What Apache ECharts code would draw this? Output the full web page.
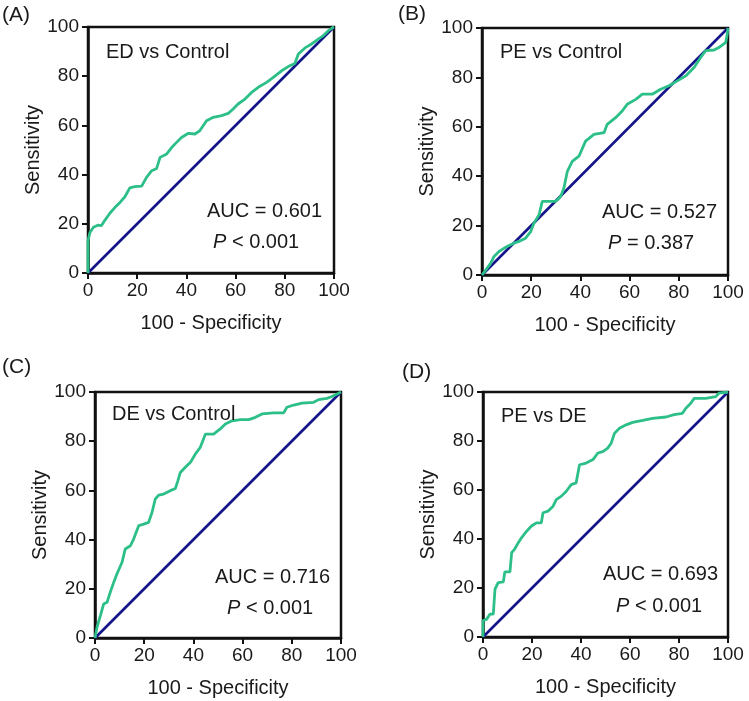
<!DOCTYPE html>
<html>
<head>
<meta charset="utf-8">
<script src="https://cdn.jsdelivr.net/npm/echarts@6/dist/echarts.min.js"></script>
<style>
html,body{margin:0;padding:0;background:#fff;}
#chart{width:749px;height:701px;}
</style>
</head>
<body>
<div id="chart"></div>
<script>
// Axis ticks
var tickValues = [0, 20, 40, 60, 80, 100];
// Reference (chance) line
var diagX = [0, 100];
var diagY = [0, 100];

// (A) ED vs Control
var fprA = [0,0,0.8,2.2,4.2,5.5,6.9,8.9,11,13,15,17,19,21.8,23.8,25.9,27.9,29.3,32,34,36,38,40.8,43.5,45.5,48.2,50.9,54.3,57,59,61,63.8,66.5,69.2,72.6,75.3,78.7,81.4,84.1,85.5,88.2,90.9,93.6,95.7,97.7,99.7,100];
var tprA = [0,13.1,16.5,18.6,19.5,19.3,21.5,24.3,26.7,28.7,31,34.6,35.1,35.3,38.9,41.6,42.5,47,48.4,51,53.1,55.1,56.8,56.5,57.9,61.9,63.3,64,64.9,66.7,68.7,70.7,73.4,75.5,77.5,79.5,82.2,83.9,85.2,89,91.5,93.1,95.1,96.5,98.5,99.9,100];

// (B) PE vs Control
var fprB = [0,1.5,3.5,4.9,6.9,8.9,11,13,15,17.7,19.8,21.1,23.2,24.5,27.2,29.9,32,33.3,34.7,36.7,39.4,42.1,45.5,49.6,50.9,54.3,57,59,62.5,65.2,69.2,72.6,76,79.4,82.8,86.2,88.9,90.9,94.3,96.3,99.1,99.7,100];
var tprB = [0,2,4.7,7.5,9.5,10.8,11.9,12.9,13.6,14.9,17.6,21,24.4,29.8,29.8,29.8,31.8,35.2,42,46,48.1,54.2,56.9,57.6,61,63.7,66.4,69.1,71.1,73.2,73.2,75.2,76.6,78.6,80.6,84,88.1,90.8,91.1,92.1,94.2,97.6,100];

// (C) DE vs Control
var fprC = [0,0.8,2.2,3.5,4.9,6.2,7.6,8.9,11,12.3,14.4,15.7,17.8,19.8,21.8,23.2,24.5,25.9,27.9,30.6,32.7,33.7,34.7,36.7,38.8,40.8,42.8,44.9,48.2,50.9,53,55.7,59.1,62.5,65.2,67.9,72.6,76.7,78,80.8,84.1,88.9,90.9,94.3,96.3,98.4,100];
var tprC = [0,4.3,9.1,13.8,14.5,18.6,22.6,26,30.8,36.2,37.5,40.2,45.7,46.3,47,51.1,56.5,58.1,58.5,59.9,60.8,64,67.3,69.4,71.4,74.8,77.5,82.9,82.9,85,87,88.3,88.8,88.8,89.7,91.1,91.5,91.5,93.8,94.7,95.5,95.8,96.9,97.4,98.2,99.2,100];

// (D) PE vs DE
var fprD = [0,0,1.5,2.8,4.2,4.9,6.2,8.3,8.9,11,11.7,13,14.4,15.7,17.8,19.8,21.8,23.8,24.5,26.6,28.6,29.9,32,34,36,38,39.4,42.1,44.9,46.9,48.9,50.9,52.3,53.7,55.7,58.4,61.1,65.2,69.2,74.7,78,81.4,82.8,84.8,86.2,90.9,95,96.3,100];
var tprD = [0,6.6,7.3,9.3,9.3,19.5,22.2,22.5,26.6,26.6,34.4,36,38.5,40.5,43.2,45.3,46.6,46.6,50.7,51.4,53.4,56.1,57.5,59.5,62.2,62.9,70.3,71,72.4,75.1,75.7,77.1,79.1,83.2,85.2,86.6,87.6,88.4,89.2,89.8,90.8,91.3,93.4,95.4,97.4,97.4,98.1,99.5,100];

var panels = [
  {tag:'(A)', name:'ED vs Control', auc:'AUC = 0.601', p:'{i|P} < 0.001', x:fprA, y:tprA,
   grid:{left:88, top:27, width:246, height:246}, tagPos:[2,5], namePos:[106,42], aucPos:[207,201], pPos:[213,232]},
  {tag:'(B)', name:'PE vs Control', auc:'AUC = 0.527', p:'{i|P} = 0.387', x:fprB, y:tprB,
   grid:{left:482, top:28, width:246, height:247}, tagPos:[398,4], namePos:[500,42], aucPos:[602,202], pPos:[608,233]},
  {tag:'(C)', name:'DE vs Control', auc:'AUC = 0.716', p:'{i|P} < 0.001', x:fprC, y:tprC,
   grid:{left:95, top:392, width:246, height:246}, tagPos:[2,357], namePos:[112,404], aucPos:[215,567], pPos:[227,598]},
  {tag:'(D)', name:'PE vs DE', auc:'AUC = 0.693', p:'{i|P} < 0.001', x:fprD, y:tprD,
   grid:{left:483, top:392, width:245, height:245}, tagPos:[402,362], namePos:[501,406], aucPos:[603,564], pPos:[616,596]}
];

var FONT = "'Liberation Sans', Arial, sans-serif";
var TXT = '#1a1a1a';
var GREEN = '#2cbf88';
var NAVY = '#15158a';

function pairs(xs, ys){ var out=[]; for(var i=0;i<xs.length;i++) out.push([xs[i], ys[i]]); return out; }

var grids=[], xAxes=[], yAxes=[], series=[], titles=[];
panels.forEach(function(p, i){
  grids.push(Object.assign({show:true, borderColor:'#111', borderWidth:2.5, backgroundColor:'transparent'}, p.grid));
  var axCommon = {
    type:'value', min:0, max:100, interval:20, gridIndex:i,
    splitLine:{show:false},
    axisLine:{show:true, lineStyle:{color:'#111', width:2.5}},
    axisTick:{show:true, inside:false, length:6, lineStyle:{color:'#111', width:2}},
    axisLabel:{color:TXT, fontSize:19, fontFamily:FONT},
    nameTextStyle:{color:TXT, fontSize:20, fontFamily:FONT},
    nameLocation:'middle'
  };
  xAxes.push(Object.assign({}, axCommon, {name:'100 - Specificity', nameGap:40, axisLabel:Object.assign({}, axCommon.axisLabel, {margin:8})}));
  yAxes.push(Object.assign({}, axCommon, {name:'Sensitivity', nameGap:45, axisLabel:Object.assign({}, axCommon.axisLabel, {margin:9})}));
  series.push({type:'line', xAxisIndex:i, yAxisIndex:i, data:pairs(diagX, diagY), showSymbol:false, silent:true,
    lineStyle:{color:NAVY, width:2.6}, z:2});
  series.push({type:'line', xAxisIndex:i, yAxisIndex:i, data:pairs(p.x, p.y), showSymbol:false, silent:true,
    lineStyle:{color:GREEN, width:2.8}, z:3});
  titles.push({text:p.tag, left:p.tagPos[0], top:p.tagPos[1], padding:0,
    textStyle:{color:TXT, fontSize:21, fontWeight:'normal', fontFamily:FONT}});
  titles.push({text:p.name, left:p.namePos[0], top:p.namePos[1], padding:0,
    textStyle:{color:TXT, fontSize:20, fontWeight:'normal', fontFamily:FONT}});
  titles.push({text:p.auc, left:p.aucPos[0], top:p.aucPos[1], padding:0,
    textStyle:{color:TXT, fontSize:20, fontWeight:'normal', fontFamily:FONT}});
  titles.push({text:p.p, left:p.pPos[0], top:p.pPos[1], padding:0,
    textStyle:{color:TXT, fontSize:20, fontWeight:'normal', fontFamily:FONT,
      rich:{i:{fontStyle:'italic', fontSize:20, color:TXT, fontFamily:FONT}}}});
});

var chart = echarts.init(document.getElementById('chart'), null, {renderer:'canvas'});
chart.setOption({
  animation:false,
  backgroundColor:'#fff',
  title:titles,
  grid:grids,
  xAxis:xAxes,
  yAxis:yAxes,
  series:series
});
</script>
</body>
</html>
